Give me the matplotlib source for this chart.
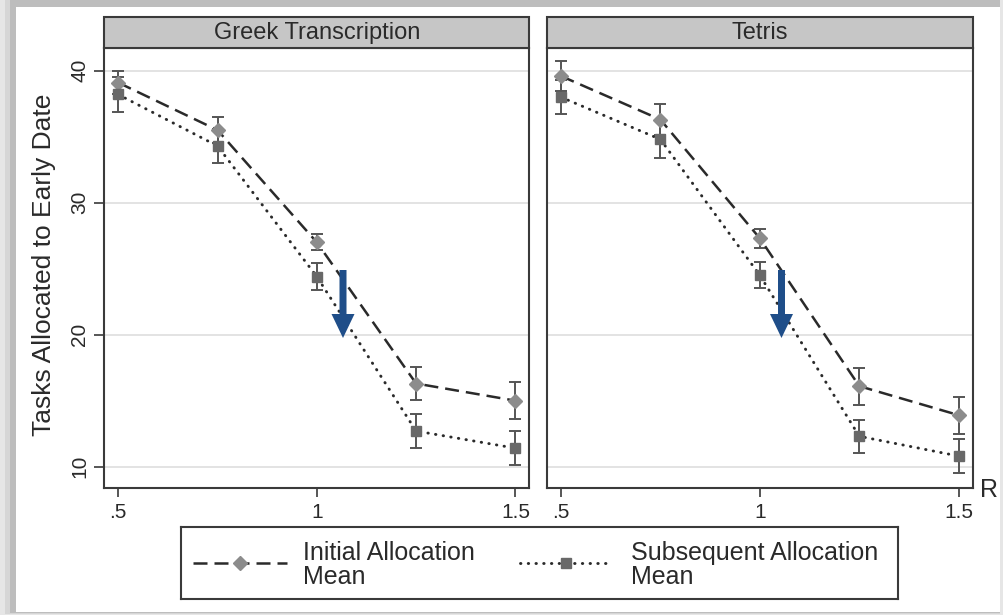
import matplotlib
matplotlib.use("Agg")
import matplotlib.pyplot as plt
from matplotlib.patches import Rectangle, FancyArrow

plt.rcParams["font.family"] = ["Liberation Sans", "DejaVu Sans"]

# ---- data -------------------------------------------------------------
ratio = [0.5, 0.75, 1.0, 1.25, 1.5]
xtick_vals = [0.5, 1.0, 1.5]
xtick_labels = [".5", "1", "1.5"]
ytick_vals = [10, 20, 30, 40]

greek_initial = [39.1, 35.5, 27.0, 16.3, 15.0]
greek_initial_err = [0.9, 1.0, 0.6, 1.25, 1.4]
greek_subsequent = [38.2, 34.3, 24.4, 12.7, 11.4]
greek_subsequent_err = [1.3, 1.3, 1.0, 1.3, 1.3]

tetris_initial = [39.6, 36.3, 27.3, 16.1, 13.9]
tetris_initial_err = [1.1, 1.2, 0.7, 1.4, 1.4]
tetris_subsequent = [38.0, 34.8, 24.5, 12.3, 10.8]
tetris_subsequent_err = [1.3, 1.4, 1.0, 1.25, 1.3]

panel_titles = ["Greek Transcription", "Tetris"]
series_labels = ["Initial Allocation\nMean", "Subsequent Allocation\nMean"]

# ---- figure & frame ---------------------------------------------------
W, H = 1004, 615
fig = plt.figure(figsize=(W / 100, H / 100), dpi=100)
fig.patch.set_facecolor("#e6e6e6")


def fx(px):
    return px / W


def fy(py):
    return 1 - py / H


def frame_rect(x0, y0, x1, y1, color):
    fig.patches.append(Rectangle((fx(x0), fy(y1)), fx(x1 - x0), (y1 - y0) / H,
                                 transform=fig.transFigure, facecolor=color,
                                 edgecolor="none", zorder=-10))


frame_rect(5, 0, 1000, 614, "#d6d6d6")
frame_rect(10, 0, 1000, 613, "#bdbdbd")
frame_rect(16, 7, 1000, 612, "white")

# ---- styles -----------------------------------------------------------
line_col = "#2a2a2a"
err_col = "#555555"
diamond_col = "#8c8c8c"
square_col = "#686868"
spine_col = "#3a3a3a"
text_col = "#2a2a2a"

initial_style = dict(color=line_col, lw=1.8, dashes=(5.6, 2.8), marker="D", ms=7.3,
                     mfc=diamond_col, mec=diamond_col)
subsequent_style = dict(color=line_col, lw=2.1, dashes=(0.15, 2.5), dash_capstyle="round",
                        marker="s", ms=7.8, mfc=square_col, mec=square_col)

top_px, bottom_px = 48.3, 488.3
strip_top_px = 17
axes_px = [(104.3, 529.3), (547, 972.7)]
panels = [
    (greek_initial, greek_initial_err, greek_subsequent, greek_subsequent_err),
    (tetris_initial, tetris_initial_err, tetris_subsequent, tetris_subsequent_err),
]

axes = []
for i, ((x0, x1), (ini, ini_e, sub, sub_e)) in enumerate(zip(axes_px, panels)):
    ax = fig.add_axes([fx(x0), fy(bottom_px), (x1 - x0) / W, (bottom_px - top_px) / H])
    axes.append(ax)
    ax.set_xlim(0.465, 1.535)
    ax.set_ylim(8.36, 41.7)
    for yv in ytick_vals:
        ax.axhline(yv, color="#dedede", lw=1.2, zorder=0)

    ax.errorbar(ratio, ini, yerr=ini_e, fmt="none", ecolor=err_col,
                elinewidth=1.4, capsize=4, capthick=1.4, zorder=2)
    ax.errorbar(ratio, sub, yerr=sub_e, fmt="none", ecolor=err_col,
                elinewidth=1.4, capsize=4, capthick=1.4, zorder=2)
    ax.plot(ratio, ini, zorder=3, **initial_style)
    ax.plot(ratio, sub, zorder=3, **subsequent_style)

    for s in ax.spines.values():
        s.set_color(spine_col)
        s.set_linewidth(1.5)

    ax.set_xticks(xtick_vals)
    ax.set_xticklabels(xtick_labels)
    ax.tick_params(axis="x", direction="out", length=6.5, width=1.2, color=spine_col,
                   labelsize=15, labelcolor=text_col, pad=4)
    if i == 0:
        ax.set_yticks(ytick_vals)
        ax.set_yticklabels([str(v) for v in ytick_vals], rotation=90, va="center")
        ax.tick_params(axis="y", direction="out", length=7, width=1.2, color=spine_col,
                       labelsize=15, labelcolor=text_col, pad=4)
    else:
        ax.set_yticks([])

    # facet strip
    strip_h = (top_px - strip_top_px) / (bottom_px - top_px)
    ax.add_patch(Rectangle((0, 1), 1, strip_h, transform=ax.transAxes, clip_on=False,
                           facecolor="#c6c6c6", edgecolor=spine_col, lw=1.5, zorder=5))
    ax.text(0.5, 1 + strip_h / 2, panel_titles[i], transform=ax.transAxes,
            ha="center", va="center", fontsize=17, color=text_col, zorder=6)

# axis titles
fig.text(fx(44), fy(265), "Tasks Allocated to Early Date", rotation=90,
         ha="center", va="center", fontsize=19, color=text_col)
fig.text(fx(989), fy(490), "R", ha="center", va="center", fontsize=18, color=text_col)

# highlight arrows
arrow_col = "#1f4e89"
for xa in (343, 781.5):
    fig.patches.append(FancyArrow(fx(xa), fy(270), 0, -(338 - 270) / H,
                                  width=7 / W, head_width=23 / W, head_length=24 / H,
                                  length_includes_head=True, transform=fig.transFigure,
                                  facecolor=arrow_col, edgecolor="none", zorder=20))

# legend box
lx0, lx1, ly0, ly1 = 181.5, 898, 527, 599
lax = fig.add_axes([fx(lx0), fy(ly1), (lx1 - lx0) / W, (ly1 - ly0) / H])
lax.set_xlim(lx0, lx1)
lax.set_ylim(ly1, ly0)
lax.set_xticks([])
lax.set_yticks([])
for s in lax.spines.values():
    s.set_color(spine_col)
    s.set_linewidth(1.5)

for (hx0, hx1, tx), style, label in zip([(193, 287.5, 303), (520, 612, 631)],
                                        [initial_style, subsequent_style], series_labels):
    lax.plot([hx0, (hx0 + hx1) / 2, hx1], [563, 563, 563], markevery=[1], **style)
    lax.text(tx, 565, label, ha="left", va="center", fontsize=18,
             linespacing=1.02, color=text_col)

fig.savefig("out.png", dpi=100, facecolor=fig.get_facecolor())
